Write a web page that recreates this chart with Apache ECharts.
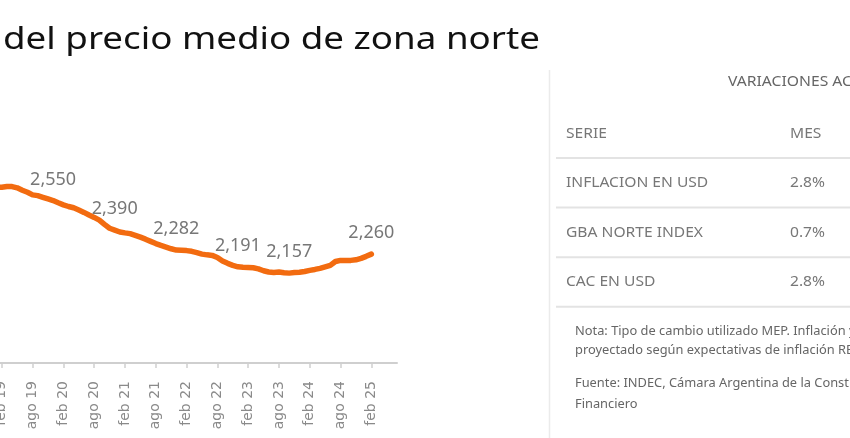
<!DOCTYPE html>
<html>
<head>
<meta charset="utf-8">
<script src="https://cdn.jsdelivr.net/npm/echarts@6/dist/echarts.min.js"></script>
<style>
html, body { margin: 0; padding: 0; background: #fff; }
#chart { width: 850px; height: 438px; }
</style>
</head>
<body>
<div id="chart"></div>
<script>
// meses ago 18 -> jul 25 (los últimos sin dato)
const monthNames = ['ene', 'feb', 'mar', 'abr', 'may', 'jun', 'jul', 'ago', 'sep', 'oct', 'nov', 'dic']
const months = []
for (let i = 0; i < 84; i++) {
	const m = (7 + i) % 12
	const y = 18 + Math.floor((7 + i) / 12)
	months.push(`${monthNames[m]} ${y}`)
}

// precio medio USD/m2
const precio = [
	2600, 2605, 2610, 2615, 2620, 2623,
	2622, 2626, 2626, 2619, 2606, 2595, 2581, 2577, 2568, 2559, 2550, 2538,
	2527, 2518, 2511, 2499, 2486, 2472, 2459, 2444, 2421, 2400, 2390, 2380,
	2375, 2371, 2362, 2352, 2341, 2329, 2317, 2307, 2298, 2289, 2282, 2281,
	2279, 2275, 2268, 2260, 2256, 2253, 2242, 2223, 2210, 2199, 2191, 2189,
	2188, 2186, 2180, 2170, 2163, 2161, 2163, 2159, 2157, 2160, 2162, 2166,
	2172, 2177, 2183, 2191, 2199, 2220, 2226, 2226, 2226, 2229, 2237, 2248,
	2260,
	null, null, null, null, null,
]
const labeledMonths = ['dic 19', 'dic 20', 'dic 21', 'dic 22', 'oct 23', 'feb 25']

const seriesNames = ['SERIE', 'INFLACION EN USD', 'GBA NORTE INDEX', 'CAC EN USD']
const mesValues = ['MES', '2.8%', '0.7%', '2.8%']

const font = "'Noto Sans', sans-serif"
const grayText = '#777777'

const chart = echarts.init(document.getElementById('chart'))

const tableGraphics = []
seriesNames.forEach((name, i) => {
	const y = 134 + i * 49.2
	tableGraphics.push({
		type: 'text',
		x: 566,
		y: y,
		scaleX: 1.04,
		style: { text: name, fill: grayText, font: `15px ${font}`, verticalAlign: 'middle' },
	})
	tableGraphics.push({
		type: 'text',
		x: 790,
		y: y,
		scaleX: 1.04,
		style: { text: mesValues[i], fill: grayText, font: `15px ${font}`, verticalAlign: 'middle' },
	})
	tableGraphics.push({
		type: 'line',
		shape: { x1: 556, y1: 158 + i * 49.6, x2: 850, y2: 158 + i * 49.6 },
		style: { stroke: '#e3e3e3', lineWidth: 2 },
	})
})

chart.setOption({
	backgroundColor: '#fff',
	animation: false,
	graphic: [
		{
			type: 'text',
			x: 3,
			y: 40,
			scaleX: 1.224,
			style: {
				text: 'del precio medio de zona norte',
				fill: '#111',
				font: `30px ${font}`,
				verticalAlign: 'middle',
			},
		},
		{
			type: 'line',
			shape: { x1: 549.5, y1: 70, x2: 549.5, y2: 438 },
			style: { stroke: '#ebebeb', lineWidth: 1.5 },
		},
		{
			type: 'text',
			x: 728,
			y: 82,
			scaleX: 1.12,
			style: { text: 'VARIACIONES ACUMULADAS', fill: '#666', font: `14px ${font}`, verticalAlign: 'middle' },
		},
		...tableGraphics,
		{
			type: 'text',
			x: 575,
			y: 322.5,
			scaleX: 1.07,
			style: {
				text: 'Nota: Tipo de cambio utilizado MEP. Inflación y CAC de febrero\nproyectado según expectativas de inflación REM',
				fill: '#666',
				font: `12px ${font}`,
				lineHeight: 19,
				verticalAlign: 'top',
			},
		},
		{
			type: 'text',
			x: 575,
			y: 373.5,
			scaleX: 1.07,
			style: {
				text: 'Fuente: INDEC, Cámara Argentina de la Construcción, Ámbito\nFinanciero',
				fill: '#666',
				font: `12px ${font}`,
				lineHeight: 21,
				verticalAlign: 'top',
			},
		},
	],
	grid: {
		left: -29,
		right: 453,
		top: 136,
		bottom: 75,
		outerBoundsMode: 'none',
	},
	xAxis: {
		type: 'category',
		data: months,
		boundaryGap: false,
		axisLine: { lineStyle: { color: '#cfcfcf', width: 2 } },
		axisTick: { interval: 5, length: 5, lineStyle: { color: '#cfcfcf', width: 1.5 } },
		axisLabel: {
			interval: 5,
			rotate: 90,
			margin: 18,
			padding: [9, 0, 0, 0],
			color: '#8a8a8a',
			fontSize: 14,
			fontFamily: "'DejaVu Sans', sans-serif",
		},
	},
	yAxis: {
		type: 'value',
		min: 1670,
		max: 2900,
		show: false,
		splitLine: { show: false },
	},
	series: [
		{
			type: 'line',
			data: precio.map((v, i) => ({
				value: v,
				label: { show: labeledMonths.includes(months[i]) },
			})),
			showSymbol: true,
			symbol: 'circle',
			symbolSize: 0,
			lineStyle: { color: '#f26b10', width: 5.5, join: 'round', cap: 'round' },
			label: {
				show: false,
				position: 'top',
				distance: 12,
				color: '#777',
				fontSize: 18,
				fontFamily: font,
				formatter: (p) => p.value.toLocaleString('en-US'),
			},
		},
	],
})
</script>
</body>
</html>
